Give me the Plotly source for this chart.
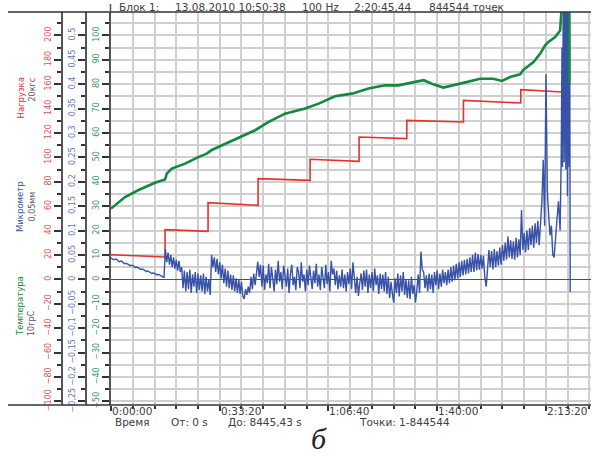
import plotly.graph_objects as go

# ---------------- data ----------------
# load (кгс), step curve: time (s) / value
red_t = [0, 994, 994, 1785, 1785, 2705, 2705, 3661, 3661, 4563, 4563, 5440, 5440, 6482, 6482, 7537, 7537, 8292]
red_v = [20.2, 18.3, 40.7, 39.3, 62.8, 60.6, 82.5, 81.1, 98.4, 96.7, 116.6, 115.3, 130.3, 129.0, 146.7, 144.5, 155.5, 153.5]

# temperature (°C)
green_t = [0, 258, 497, 810, 994, 1025, 1117, 1362, 1606, 1761, 1853, 2000, 2300, 2650, 2900, 3200, 3570,
           3820, 4120, 4430, 4735, 5040, 5285, 5530, 5617, 5750, 5930, 6110, 6420, 6790, 7030, 7190, 7340,
           7525, 7587, 7770, 7895, 7985, 8045, 8170, 8260, 8300, 8425, 8430]
green_v = [29.0, 33.7, 36.5, 39.6, 40.9, 43.3, 45.4, 47.4, 50.1, 51.5, 53.0, 54.5, 57.5, 61.1, 64.5, 67.9, 70.0,
           72.0, 75.0, 76.1, 78.2, 79.5, 79.5, 80.5, 80.8, 81.6, 79.9, 78.6, 80.2, 82.2, 82.2, 81.3, 82.9,
           84.0, 85.9, 89.0, 92.5, 95.9, 97.3, 99.3, 102.0, 115.0, 115.0, 80.0]

# displacement (µm), sampled every 25 s from 0 to 8200 s, then the final section
blue_step = 25
blue_v_um = [
    44, 42, 40, 41, 41, 38, 36, 37, 37, 34, 32, 33, 32, 30, 28, 29, 28, 26, 24, 25,
    24, 22, 20, 21, 20, 18, 16, 17, 16, 14, 12, 13, 12, 10, 9, 10, 9, 7, 5, 4,
    62, 35, 55, 30, 50, 25, 45, 22, 40, 18, 38, 15,
    25, -18, 18, -25, 15, -20, 20, -28, 10, -15, 15, -28, 12, -22, 8, -25, 12, -30, 5, -25, 0, -32,
    50, 25, 45, 15, 42, 10, 35, 2, 30, -8, 22, -15, 18, -18, 10, -22, 8, -25, 2, -28,
    0, -30, -5, -35, -40, -20, -32, -15, -28, 5, -20, 12, -12, 20,
    36, 5, 30, -15, 28, -22, 10, -8, 32, -18, 25, 2, -25, 20, -10, 38, -5, 15, -20, 28,
    8, -15, 22, -28, 12, 30, -12, 5, -22, 25, 15, -18, 35, -5, 10, -25, 20, -12, 28, 0,
    -20, 18, -8, 32, -15, 10, -22, 25, 5, -18, 30, -10, 15, -25, 38, 10, 22, -12, 18, -20, 8, -15,
    20, -18, 10, -25, 15, -10, 22, -20, 35, 8, -28, 5, -34, -8, 12, -22, 18, -15, 20, -28,
    10, -18, 15, -25, 22, -12, 8, -30, 12, -20,
    10, -25, 15, -30, 5, -38, -5, -30, -48, 2, -28, 12, -35, 8, -25, 15, -32, 0, -38, -2,
    -40, 5, -30, -12, -48, -22, 10, -28,
    57, 20,
    15, -18, 8, -25, 12, -20, 10, -28, 15, -12, 18, -20, 12, -15, 20, -8,
    15, -12, 20, -8, 25, -5, 28, -2, 32, 2, 35, 5, 38, 8, 40, 10, 42, 12, 45, 15,
    50, 15, 55, 18, 52, 20, 50, 22, 48, 5, -15, 20, 60, 25, 58, 20, 62, 25, 58, 28, 65, 30,
    70, 38, 75, 40, 88, 45, 80, 42, 78, 40, 85, 45, 82, 50,
    142, 60, 95, 55, 100, 60, 105, 70, 110, 65, 115, 75, 120, 70, 110, 160, 245, 110, 420, 180,
    130, 90, 110, 50, 45, 95, 120]
blue_tail_t = [8230, 8260, 8280, 8295, 8305, 8320, 8335, 8350, 8365, 8380, 8395, 8410, 8425, 8435, 8445]
blue_tail_um = [160, 100, 250, 475, 230, 650, 240, 650, 225, 650, 170, 650, 230, 650, -26]

x_tickvals = [0, 2000, 4000, 6000, 8000]
x_ticktext = ["0:00:00", "0:33:20", "1:06:40", "1:40:00", "2:13:20"]

header = [("Блок 1:", 117), ("13.08.2010 10:50:38", 173), ("100 Hz", 300),
          ("2:20:45,44", 352), ("844544 точек", 427)]
footer = [("Время", 113), ("От: 0 s", 169), ("До: 8445,43 s", 226), ("Точки: 1-844544", 357)]

# ---------------- layout helpers ----------------
W, H = 592, 456
ML, MR, MT, MB = 8, 1, 12, 51
PW, PH = W - ML - MR, H - MT - MB


def px(x):
    return (x - ML) / PW


def py(y):
    return (H - MB - y) / PH


RED = "#e5322d"
BLUE = "#3752a6"
GREEN = "#14883c"
RED_T = "#e8504a"
BLUE_T = "#5b76bf"
GREEN_T = "#2f9a56"
GRID = "#cfcfcf"
AX = "#555555"
TXT = "#404040"

red_range = [-103.0, 219.1]
blue_range = [v / 400 for v in red_range]
green_range = [v / 2 for v in red_range]

blue_t = [i * blue_step for i in range(len(blue_v_um))] + blue_tail_t
blue_v = [v / 1000 for v in blue_v_um + blue_tail_um]

fig = go.Figure()
fig.add_trace(go.Scatter(x=red_t, y=red_v, mode="lines", line=dict(color=RED, width=1.6), yaxis="y"))
fig.add_trace(go.Scatter(x=blue_t, y=blue_v, mode="lines", line=dict(color=BLUE, width=1.4), yaxis="y2"))
fig.add_trace(go.Scatter(x=green_t, y=green_v, mode="lines", line=dict(color=GREEN, width=2.6), yaxis="y3"))

tickfont = lambda c: dict(family="DejaVu Sans", size=8, color=c)
common_y = dict(showline=True, linecolor=AX, linewidth=1.5, ticks="outside", ticklen=7, tickwidth=1.5,
                tickcolor="#333", tickangle=-90, tick0=0, fixedrange=True)

fig.update_layout(
    width=W, height=H, margin=dict(l=ML, r=MR, t=MT, b=MB),
    paper_bgcolor="white", plot_bgcolor="white", showlegend=False, separators=", ",
    xaxis=dict(domain=[px(111), 1], range=[0, 8828], tickmode="array", tickvals=x_tickvals,
               ticks="outside", ticklen=5, tickwidth=1.5, tickcolor="#333", showticklabels=False,
               showline=False, zeroline=False, showgrid=True, gridcolor=GRID, gridwidth=1.5,
               minor=dict(dtick=400, tick0=0, ticks="outside", ticklen=3, tickcolor="#333",
                          showgrid=True, gridcolor=GRID, gridwidth=1.5)),
    yaxis=dict(range=red_range, anchor="free", position=px(62), dtick=20, tickfont=tickfont(RED_T),
               showgrid=True, gridcolor=GRID, gridwidth=1.5, zeroline=True, zerolinecolor="#1f6b3c",
               zerolinewidth=1.3,
               minor=dict(dtick=10, tick0=0, ticks="outside", ticklen=4, tickcolor="#333",
                          showgrid=True, gridcolor=GRID, gridwidth=1.5), **common_y),
    yaxis2=dict(range=blue_range, overlaying="y", anchor="free", position=px(86), dtick=0.05,
                tickfont=tickfont(BLUE_T), showgrid=False, zeroline=False,
                minor=dict(dtick=0.025, tick0=0, ticks="outside", ticklen=4, tickcolor="#333"), **common_y),
    yaxis3=dict(range=green_range, overlaying="y", anchor="x", side="left", dtick=10,
                tickfont=tickfont(GREEN_T), showgrid=False, zeroline=False,
                minor=dict(dtick=5, tick0=0, ticks="outside", ticklen=4, tickcolor="#333"), **common_y),
)

# frame lines
fig.add_shape(type="line", xref="paper", yref="paper", x0=0, x1=1, y0=1, y1=1,
              line=dict(color="#333", width=1.5))
fig.add_shape(type="line", xref="paper", yref="paper", x0=0, x1=1, y0=0, y1=0,
              line=dict(color="#333", width=1.5))
fig.add_shape(type="line", xref="paper", yref="paper", x0=px(110.5), x1=px(110.5), y0=py(4), y1=py(12),
              line=dict(color=AX, width=1.5))

txtfont = dict(family="DejaVu Sans", size=10.5, color=TXT)
# time-axis tick labels (left-aligned at their ticks, as in the original)
for v, t in zip(x_tickvals, x_ticktext):
    fig.add_annotation(text=t, x=v, y=py(411), xref="x", yref="paper", xanchor="left", yanchor="middle",
                       xshift=-1, showarrow=False, font=txtfont)
for txt, x in header:
    fig.add_annotation(text=txt, x=px(x), y=py(7.5), xref="paper", yref="paper", xanchor="left",
                       yanchor="middle", showarrow=False, font=txtfont)
for txt, x in footer:
    fig.add_annotation(text=txt, x=px(x), y=py(422), xref="paper", yref="paper", xanchor="left",
                       yanchor="middle", showarrow=False, font=txtfont)

titles = [("Нагрузка", RED, 76), ("Микрометр", BLUE, 207), ("Температура", GREEN, 338)]
units = [("20кгс", 76), ("0,05мм", 207), ("10грС", 338)]
for txt, c, y in titles:
    fig.add_annotation(text=txt, x=px(13), y=py(y), xref="paper", yref="paper", showarrow=False,
                       textangle=-90, font=dict(family="DejaVu Sans", size=8.5, color=c))
for txt, y in units:
    fig.add_annotation(text=txt, x=px(25), y=py(y), xref="paper", yref="paper", showarrow=False,
                       textangle=-90, font=dict(family="DejaVu Sans", size=8, color="#555"))

fig.add_annotation(text="<i>б</i>", x=px(319), y=py(457), xref="paper", yref="paper", showarrow=False,
                   font=dict(family="Liberation Serif", size=30, color="#222"))

fig.write_html("out.html", config=dict(displayModeBar=False))
